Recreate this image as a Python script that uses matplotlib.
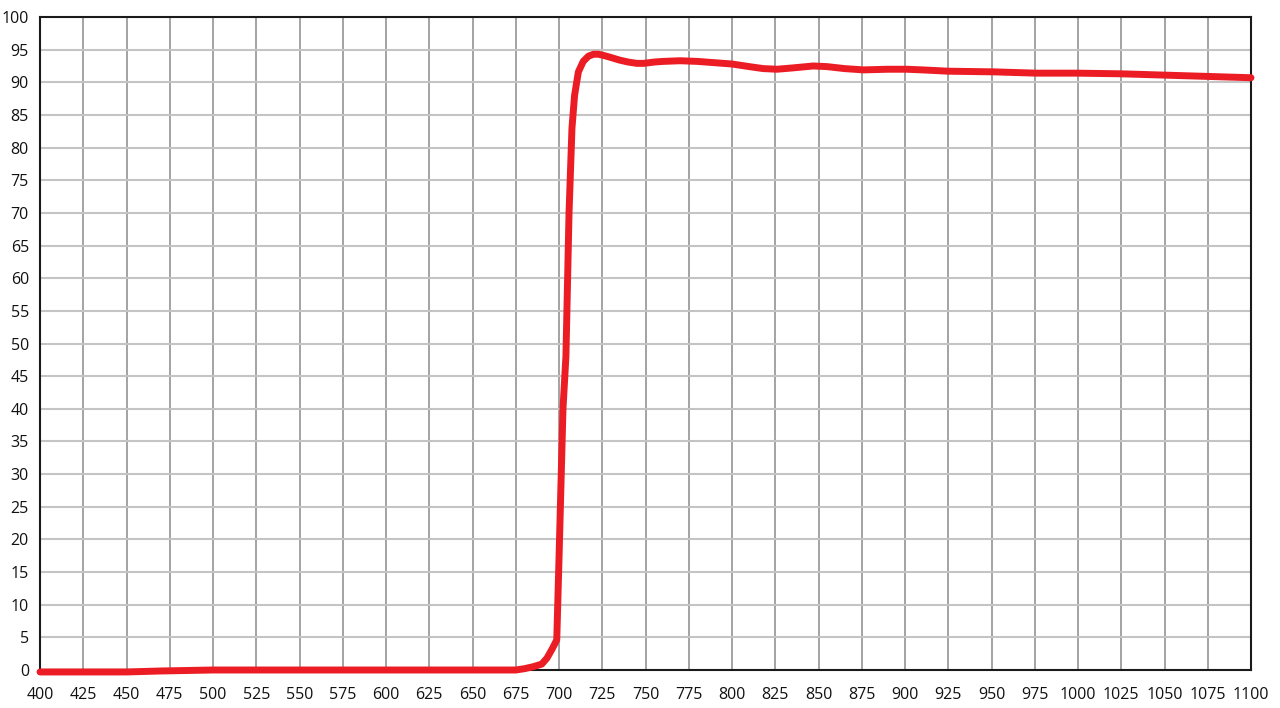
import matplotlib
matplotlib.use("Agg")
import matplotlib.pyplot as plt

wavelength = [400, 450, 470, 500, 600, 650, 675, 680, 685, 690, 693, 696, 698.7, 700,
              702.3, 704, 705.8, 707.5, 709, 711.2, 714, 717, 720, 722.7, 726, 730,
              735, 740, 745, 749, 755, 760, 770, 780, 790, 800, 810, 818, 826, 835,
              847, 855, 865, 876, 890, 901, 910, 925, 951, 976, 1000, 1025, 1050,
              1075, 1100]
transmission = [-0.3, -0.3, -0.15, 0, 0, 0, 0, 0.2, 0.5, 0.9, 1.8, 3.2, 4.6, 17,
                40, 48, 70, 83, 88, 91.6, 93.2, 94.0, 94.3, 94.3, 94.1, 93.8,
                93.4, 93.1, 92.9, 92.9, 93.1, 93.2, 93.3, 93.2, 93.0, 92.8, 92.4,
                92.1, 92.0, 92.2, 92.5, 92.4, 92.1, 91.9, 92.0, 92.0, 91.9, 91.7,
                91.6, 91.4, 91.4, 91.3, 91.1, 90.9, 90.7]
x_ticks = list(range(400, 1101, 25))
y_ticks = list(range(0, 101, 5))

fig = plt.figure(figsize=(12.8, 7.08), dpi=100)
ax = fig.add_axes([40/1280, 1-670/708, 1211/1280, 653/708])
ax.set_xlim(400, 1100)
ax.set_ylim(0, 100)
ax.set_xticks(x_ticks)
ax.set_yticks(y_ticks)
ax.set_xticklabels([str(v) for v in x_ticks])
ax.set_yticklabels([str(v) for v in y_ticks])
ax.tick_params(length=0, labelsize=11.5, colors="#111111")
ax.tick_params(axis="x", pad=12)
ax.tick_params(axis="y", pad=8)
for lab in ax.get_xticklabels() + ax.get_yticklabels():
    lab.set_family(["Open Sans", "DejaVu Sans"])

for v in x_ticks[1:-1]:
    ax.axvline(v, color="#939393", lw=1.2, zorder=1)
for v in y_ticks[1:-1]:
    ax.axhline(v, color="#c4c4c4", lw=1.5, zorder=1)

for s in ax.spines.values():
    s.set_color("#1a1a1a")
    s.set_linewidth(1.5)

ax.plot(wavelength, transmission, color="#ec1c24", lw=5, solid_joinstyle="round",
        solid_capstyle="round", clip_on=False, zorder=3)

fig.savefig("out.png", dpi=100)
